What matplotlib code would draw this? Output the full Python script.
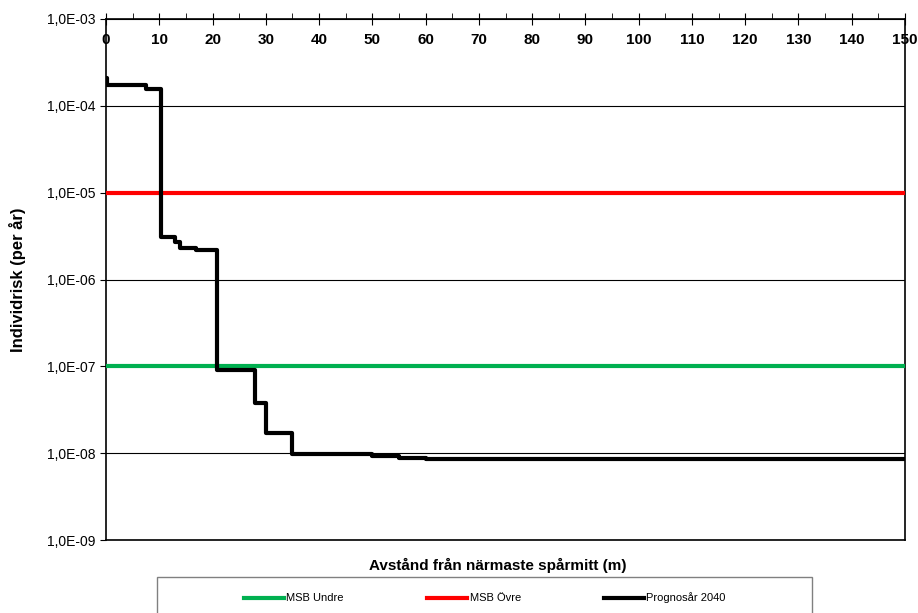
import numpy as np
import matplotlib.pyplot as plt
from matplotlib.ticker import FixedLocator, FuncFormatter, MultipleLocator
from matplotlib.patches import Rectangle

plt.rcParams['font.family'] = ['Liberation Sans', 'DejaVu Sans']

# Avstand (m) och individrisk, prognosar 2040 (trappstegskurva)
avstand = [0, 0.2, 7.6, 10.4, 12.9, 13.9, 16.9, 20.8, 28.0, 30.0, 35.0, 50.0, 55.0, 60.0, 150.0]
risk = [2.1e-4, 1.74e-4, 1.55e-4, 3.1e-6, 2.7e-6, 2.28e-6, 2.18e-6, 9.0e-8, 3.8e-8,
        1.69e-8, 9.7e-9, 9.2e-9, 8.8e-9, 8.5e-9, 8.5e-9]
msb_undre = 1e-7
msb_ovre = 1e-5
yticks = [1e-9, 1e-8, 1e-7, 1e-6, 1e-5, 1e-4, 1e-3]


def fmt(v, pos):
    e = int(round(np.log10(v)))
    return "1,0E-%02d" % (-e)


fig = plt.figure(figsize=(9.18, 6.13), dpi=100)
ax = fig.add_axes([106/918, 1 - 540/613, (905-106)/918, (540-19)/613])

ax.axhline(msb_undre, color='#00B050', lw=3, label='MSB Undre', zorder=3)
ax.axhline(msb_ovre, color='#FF0000', lw=3, label='MSB Övre', zorder=3)
ax.step(avstand, risk, where='post', color='black', lw=3, label='Prognosår 2040', zorder=4)

ax.set_yscale('log')
ax.set_ylim(1e-9, 1e-3)
ax.set_xlim(0, 150)
ax.yaxis.set_major_locator(FixedLocator(yticks))
ax.yaxis.set_minor_locator(FixedLocator([]))
ax.yaxis.set_major_formatter(FuncFormatter(fmt))
ax.grid(axis='y', color='black', lw=0.8)
ax.set_axisbelow(True)

ax.xaxis.set_major_locator(MultipleLocator(10))
ax.xaxis.set_minor_locator(MultipleLocator(5))
ax.tick_params(axis='x', which='major', top=True, bottom=False, labeltop=True,
               labelbottom=False, direction='inout', length=8, pad=-24, labelsize=11)
ax.tick_params(axis='x', which='minor', top=True, bottom=False, direction='out', length=4)
for lbl in ax.get_xticklabels():
    lbl.set_fontweight('bold')
ax.tick_params(axis='y', which='major', direction='out', length=4, labelsize=10)

for s in ax.spines.values():
    s.set_linewidth(1.2)

ax.set_ylabel('Individrisk (per år)', fontsize=12, fontweight='bold', labelpad=15)
fig.text(498/918, 1 - 565/613, 'Avstånd från närmaste spårmitt (m)', fontsize=11,
         fontweight='bold', ha='center', va='center')

fig.patches.append(Rectangle((157/918, -0.05), (812-157)/918, (1 - 577/613) + 0.05,
                             transform=fig.transFigure, fill=False, edgecolor='#808080', lw=1))
fig.legend(loc='center', bbox_to_anchor=(485/918, 1 - 598/613), ncol=3, frameon=False,
           fontsize=8, handlelength=3.6, columnspacing=7.5, handletextpad=0.2)

fig.savefig('out.png', dpi=100)
